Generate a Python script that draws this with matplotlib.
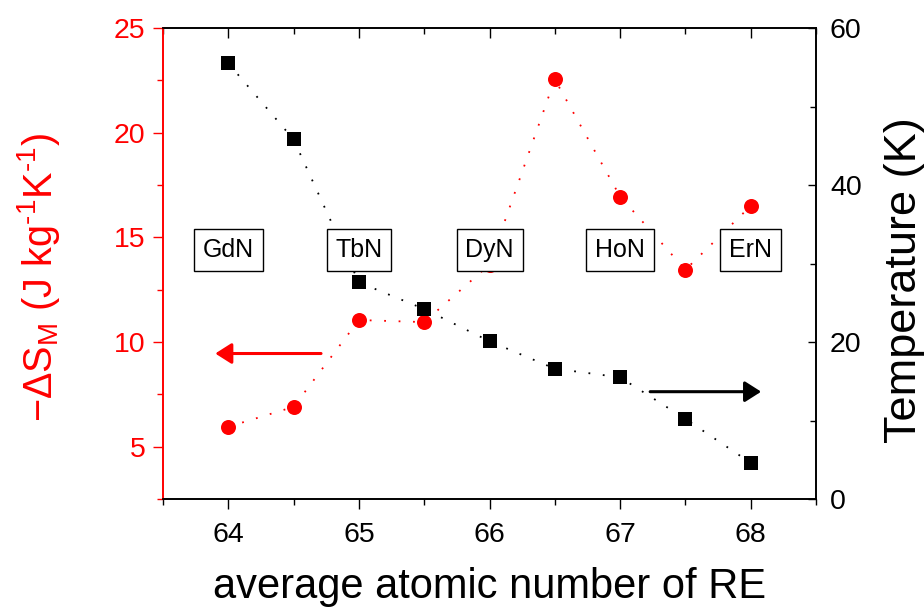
import matplotlib
matplotlib.use("Agg")
import matplotlib.pyplot as plt
from matplotlib.ticker import MultipleLocator

plt.rcParams["font.family"] = ["Liberation Sans", "DejaVu Sans"]
plt.rcParams["mathtext.fontset"] = "custom"
plt.rcParams["mathtext.rm"] = "Liberation Sans"
plt.rcParams["mathtext.it"] = "Liberation Sans:italic"
plt.rcParams["mathtext.bf"] = "Liberation Sans:bold"

# Average atomic number of the rare-earth site
atomic_number = [64.0, 64.5, 65.0, 65.5, 66.0, 66.5, 67.0, 67.5, 68.0]
# Magnetic entropy change -dS_M (J kg^-1 K^-1)
entropy_change = [5.95, 6.9, 11.05, 10.95, 13.7, 22.55, 16.95, 13.45, 16.5]
# Ordering temperature (K)
temperature = [55.5, 45.8, 27.6, 24.2, 20.1, 16.6, 15.5, 10.2, 4.6]

compound_names = ["GdN", "TbN", "DyN", "HoN", "ErN"]
compound_x = [64, 65, 66, 67, 68]
compound_y = 14.4

RED = "#ff0000"
W, H = 924, 612
fig = plt.figure(figsize=(W / 100, H / 100), dpi=100)
ax1 = fig.add_axes([163 / W, 1 - 499 / H, (816 - 163) / W, (499 - 28) / H])
ax2 = ax1.twinx()

dot = (0, (1, 7))
ax1.plot(atomic_number, entropy_change, color=RED, lw=1.3, linestyle=dot,
         marker="o", markersize=10.8, markeredgewidth=0, zorder=3)
ax2.plot(atomic_number, temperature, color="black", lw=1.3, linestyle=dot,
         marker="s", markersize=9.4, markeredgewidth=0, zorder=3)

ax1.set_xlim(63.5, 68.5)
ax1.set_ylim(2.5, 25)
ax2.set_ylim(0, 60)

# x axis ticks
ax1.xaxis.set_major_locator(MultipleLocator(1))
ax1.xaxis.set_minor_locator(MultipleLocator(0.5))
ax1.tick_params(axis="x", which="both", bottom=True, top=True,
                labelsize=20.5, pad=9)
ax1.tick_params(axis="x", which="major", length=7.5, width=1.0)
ax1.tick_params(axis="x", which="minor", length=4, width=1.0)

# left axis (red)
ax1.yaxis.set_major_locator(MultipleLocator(5))
ax1.yaxis.set_minor_locator(MultipleLocator(2.5))
ax1.tick_params(axis="y", which="both", direction="out", colors=RED,
                labelsize=20.5, pad=5)
ax1.tick_params(axis="y", which="major", length=7.5, width=1.0)
ax1.tick_params(axis="y", which="minor", length=4, width=1.0)
ax1.spines["left"].set_color(RED)
for s in ("left", "right", "top", "bottom"):
    ax1.spines[s].set_linewidth(1.2)
    ax2.spines[s].set_linewidth(1.2)
ax2.spines["left"].set_color(RED)

# right axis (black)
ax2.yaxis.set_major_locator(MultipleLocator(20))
ax2.yaxis.set_minor_locator(MultipleLocator(10))
ax2.tick_params(axis="y", which="both", direction="in", colors="black",
                labelsize=20.5, pad=10)
ax2.tick_params(axis="y", which="major", length=6, width=1.0)
ax2.tick_params(axis="y", which="minor", length=4, width=1.0)

# top ticks point inward
for t in ax1.xaxis.get_major_ticks():
    t.tick2line.set_marker(matplotlib.lines.TICKDOWN)
for t in ax1.xaxis.get_minor_ticks():
    t.tick2line.set_marker(matplotlib.lines.TICKDOWN)

ax1.set_xlabel("average atomic number of RE", fontsize=30, labelpad=14)
ax1.set_ylabel("\u2212\u0394S$_\\mathrm{M}$ (J kg$^{\u20101}$K$^{\u20101}$)",
               fontsize=28.5, color=RED)
ax1.yaxis.set_label_coords(-0.155, 0.47)
ax2.set_ylabel("Temperature (K)", fontsize=32.5)
ax2.yaxis.set_label_coords(1.104, 0.465)

# direction arrows pointing to each axis
ax1.annotate("", xy=(63.9, 9.45), xytext=(64.71, 9.45),
             arrowprops=dict(arrowstyle="-|>,head_length=0.55,head_width=0.35",
                             mutation_scale=18, lw=2.2, color=RED,
                             shrinkA=0, shrinkB=0))
ax2.annotate("", xy=(68.08, 13.67), xytext=(67.23, 13.67),
             arrowprops=dict(arrowstyle="-|>,head_length=0.55,head_width=0.35",
                             mutation_scale=18, lw=2.2, color="black",
                             shrinkA=0, shrinkB=0))

for name, xv in zip(compound_names, compound_x):
    ax2.text(xv, compound_y, name, transform=ax1.transData, fontsize=18,
             ha="center", va="center", zorder=10,
             bbox=dict(boxstyle="square,pad=0.35", fc="white", ec="black",
                       lw=1.0))

fig.savefig("out.png", dpi=100)
